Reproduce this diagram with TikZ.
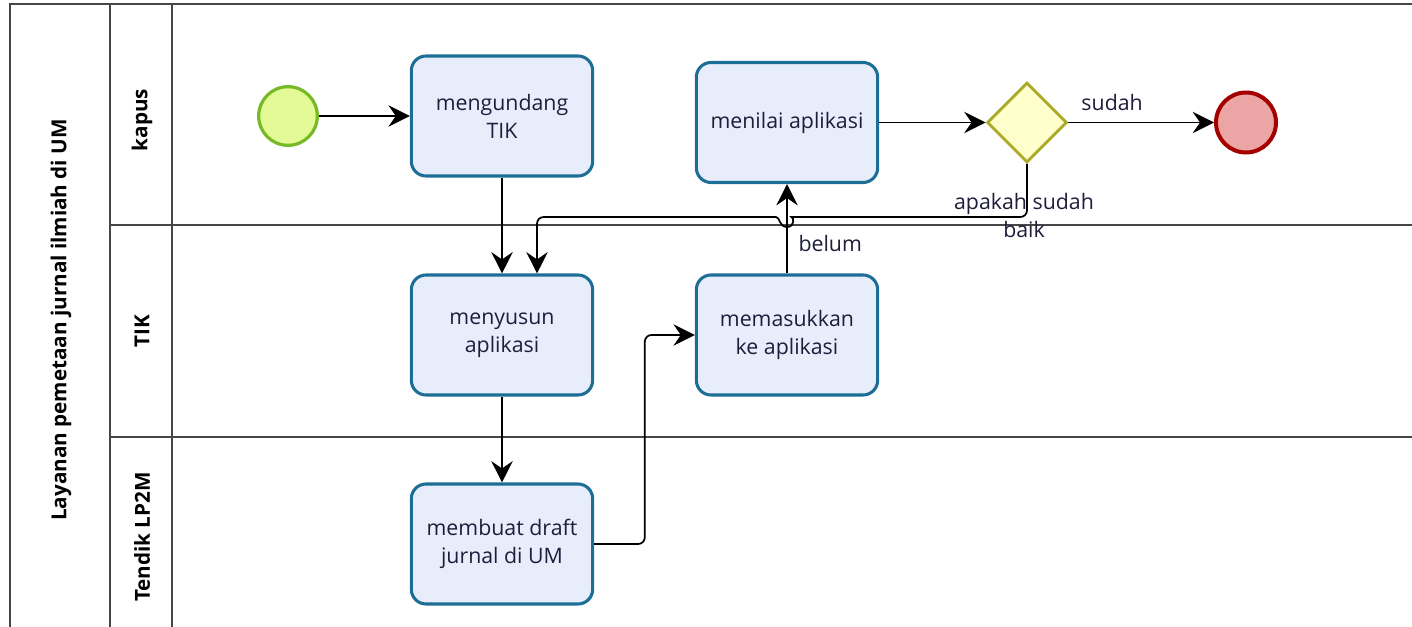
\documentclass[tikz,border=0pt]{standalone}
\usepackage{fontspec}
\setmainfont{Open Sans}
\usetikzlibrary{shapes.geometric,arrows.meta,calc}
\definecolor{taskfill}{RGB}{232,237,252}
\definecolor{taskdraw}{RGB}{28,110,150}
\definecolor{startfill}{RGB}{228,250,150}
\definecolor{startdraw}{RGB}{120,185,40}
\definecolor{gwfill}{RGB}{255,255,204}
\definecolor{gwdraw}{RGB}{170,170,40}
\definecolor{endfill}{RGB}{235,165,165}
\definecolor{enddraw}{RGB}{165,0,0}
\definecolor{txtcol}{RGB}{30,30,60}
\definecolor{poolcol}{RGB}{70,70,70}
\begin{document}
\begin{tikzpicture}[x=0.75pt,y=-0.75pt,
  poolline/.style={draw=poolcol,line width=1.1pt},
  lanetitle/.style={font=\fontsize{15.5}{18}\selectfont\bfseries,text=black,rotate=90},
  task/.style={draw=taskdraw,fill=taskfill,line width=2.3pt,rounded corners=11pt,
    minimum width=136pt,minimum height=90pt,align=center,text=txtcol,
    font=\fontsize{16}{21}\selectfont},
  startev/.style={circle,draw=startdraw,fill=startfill,line width=2.4pt,minimum size=44pt,inner sep=0pt},
  endev/.style={circle,draw=enddraw,fill=endfill,line width=3pt,minimum size=45pt,inner sep=0pt},
  gateway/.style={diamond,draw=gwdraw,fill=gwfill,line width=2.2pt,minimum width=60pt,minimum height=60pt,inner sep=0pt,aspect=1},
  flow/.style={line width=1.3pt,-{Stealth[length=16pt,width=16pt,inset=5.5pt]}},
  lbl/.style={font=\fontsize{16}{21}\selectfont,text=txtcol,align=center,inner sep=0pt}
]
\useasboundingbox (0,0) rectangle (1412,627);
% pool and lanes
\draw[poolline] (10,627) -- (10,4) -- (1412,4);
\draw[poolline] (110,4) -- (110,627);
\draw[poolline] (172,4) -- (172,627);
\draw[poolline] (110,225) -- (1412,225);
\draw[poolline] (110,437) -- (1412,437);
\node[lanetitle] (pool) at (61,320) {Layanan pemetaan jurnal ilmiah di UM};
\node[lanetitle] (lkapus) at (142,120) {kapus};
\node[lanetitle] (ltik) at (142,331) {TIK};
\node[lanetitle] (ltendik) at (142,537) {Tendik LP2M};
% elements
\node[startev] (start) at (288,116) {};
\node[task] (t1) at (502,116) {mengundang\\TIK};
\node[task] (t2) at (502,335) {menyusun\\aplikasi};
\node[task] (t3) at (502,544) {membuat draft\\jurnal di UM};
\node[task] (t4) at (787,335) {memasukkan\\ke aplikasi};
\node[task] (t5) at (787,122.5) {menilai aplikasi};
\node[gateway] (gw) at (1027,122.5) {};
\node[endev] (end) at (1246,122.5) {};
\node[lbl] (gwlbl) at (1024,216) {apakah sudah\\baik};
% flows
\draw[flow] (start) -- (t1);
\draw[flow] (t1) -- (t2);
\draw[flow] (t2) -- (t3);
\draw[flow,rounded corners=5pt] (t3.east) -| ($(t4.west)+(-50,0)$) -- (t4.west);
\draw[flow] (t4) -- node[lbl,pos=0.34,anchor=west,xshift=8pt]{belum} (t5);
\draw[flow] (t5) -- (gw);
\draw[flow] (gw) -- node[lbl,pos=0.3,above=8pt]{sudah} (end);
\draw[flow] [rounded corners=5pt] (gw.south) |- (798,217) [sharp corners]
  .. controls (794,217) and (795,227) .. (787,227)
  .. controls (779,227) and (780,217) .. (776,217)
  [rounded corners=5pt] -| ($(t2.north)+(35,0)$);
\end{tikzpicture}
\end{document}
